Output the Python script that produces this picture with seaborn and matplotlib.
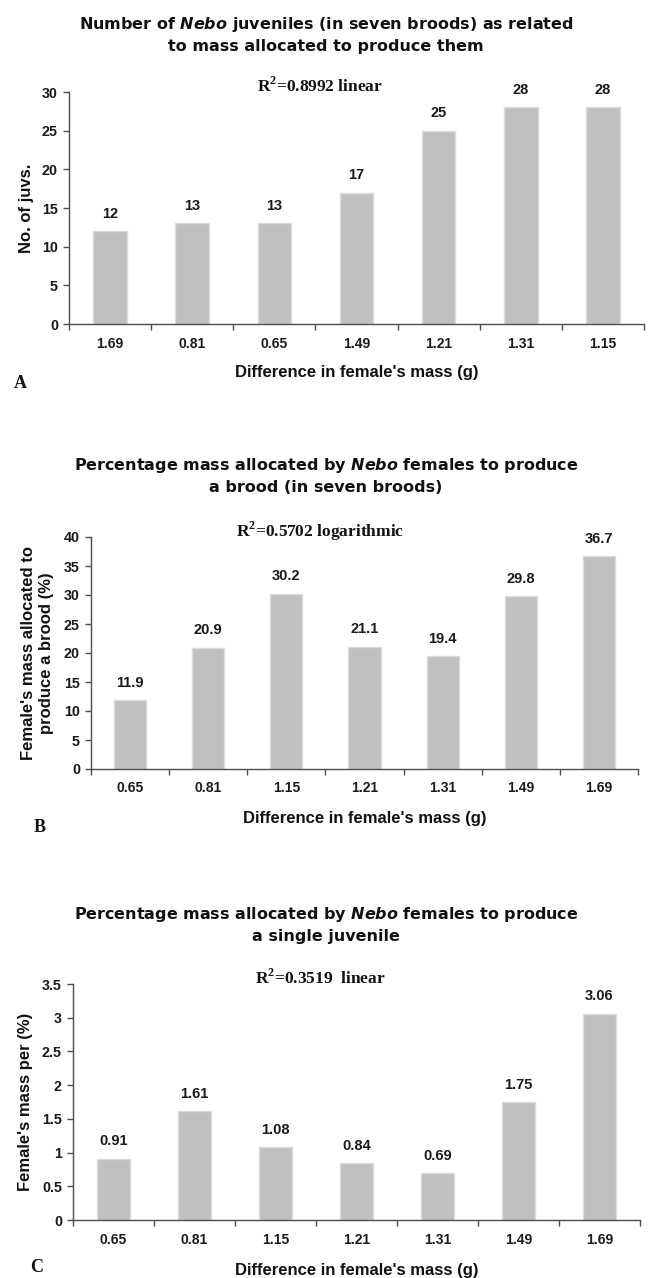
import matplotlib
matplotlib.use("Agg")
import matplotlib.pyplot as plt
import seaborn as sns
from matplotlib.ticker import FixedLocator, MultipleLocator, FuncFormatter

# Brood data for Nebo females
mass_a = ["1.69", "0.81", "0.65", "1.49", "1.21", "1.31", "1.15"]
juveniles = [12, 13, 13, 17, 25, 28, 28]

mass_bc = ["0.65", "0.81", "1.15", "1.21", "1.31", "1.49", "1.69"]
brood_pct = [11.9, 20.9, 30.2, 21.1, 19.4, 29.8, 36.7]
per_juvenile_pct = [0.91, 1.61, 1.08, 0.84, 0.69, 1.75, 3.06]

titles = [
    ("Number of $\\mathit{Nebo}$ juveniles (in seven broods) as related",
     "to mass allocated to produce them"),
    ("Percentage mass allocated by $\\mathit{Nebo}$ females to produce",
     "a brood (in seven broods)"),
    ("Percentage mass allocated by $\\mathit{Nebo}$ females to produce",
     "a single juvenile"),
]
fits = ["R$^\\mathrm{2}$=0.8992 linear", "R$^\\mathrm{2}$=0.5702 logarithmic",
        "R$^\\mathrm{2}$=0.3519  linear"]
ylabels = ["No. of juvs.", "Female's mass allocated to\nproduce a brood (%)",
           "Female's mass per (%)"]
panel_tags = ["A", "B", "C"]
xlabel = "Difference in female's mass (g)"

sns.set_theme(style="white")
plt.rcParams["font.family"] = ["Liberation Sans", "DejaVu Sans"]
plt.rcParams["mathtext.fontset"] = "custom"
plt.rcParams["mathtext.it"] = "DejaVu Sans:bold:italic"
plt.rcParams["mathtext.rm"] = "Liberation Serif:bold"

W, H = 648, 1278
fig = plt.figure(figsize=(W / 100, H / 100), dpi=100)


def fx(px):
    return px / W


def fy(py):
    return 1 - py / H


# axes boxes in pixels: left, top, right, bottom
boxes = [(69, 92, 644, 324), (91, 537, 638, 769), (73, 984, 640, 1220)]
title_y = [(25, 47), (466, 488), (914, 936)]
fit_pos = [(320, 86), (320, 531), (320, 978)]
tag_pos = [(20, 383), (40, 828), (37, 1268)]
xlabel_y = [373, 818, 1270]
ylabel_x = [26, 38, 26]

panels = [
    (mass_a, juveniles, "{:d}", 30, 5),
    (mass_bc, brood_pct, "{:.1f}", 40, 5),
    (mass_bc, per_juvenile_pct, "{:.2f}", 3.5, 0.5),
]

spine_col = "#4d4d4d"
bar_col = "#c0c0c0"
ink = "#111111"

for i, (cats, vals, fmt, ymax, ystep) in enumerate(panels):
    l, t, r, b = boxes[i]
    ax = fig.add_axes([fx(l), fy(b), fx(r - l), (b - t) / H])
    sns.barplot(x=cats, y=vals, order=cats, color=bar_col, width=0.41,
                edgecolor="#dcdcdc", linewidth=1.0, saturation=1, ax=ax)
    ax.set_xlim(-0.5, len(cats) - 0.5)
    ax.set_ylim(0, ymax)
    ax.yaxis.set_major_locator(MultipleLocator(ystep))
    ax.yaxis.set_major_formatter(FuncFormatter(lambda v, p: "%g" % v))
    ax.xaxis.set_minor_locator(FixedLocator([k - 0.5 for k in range(len(cats) + 1)]))
    for s in ["top", "right"]:
        ax.spines[s].set_visible(False)
    for s in ["left", "bottom"]:
        ax.spines[s].set_color(spine_col)
        ax.spines[s].set_linewidth(1.0)
    ax.tick_params(axis="x", which="major", length=0, pad=9, labelsize=10)
    ax.tick_params(axis="x", which="minor", length=4, width=1, color=spine_col,
                   direction="out", bottom=True)
    ax.tick_params(axis="y", length=4, width=1, color=spine_col, direction="out",
                   left=True, pad=4, labelsize=10.3)
    for lab in ax.get_xticklabels() + ax.get_yticklabels():
        lab.set_fontweight("bold")
        lab.set_color("#1a1a1a")
    ax.set_xlabel("")
    ax.set_ylabel("")
    ax.grid(False)

    for k, v in enumerate(vals):
        ax.annotate(fmt.format(v), (k, v), xytext=(0, 12.5), textcoords="offset points",
                    ha="center", va="center", fontsize=10.5, fontweight="bold",
                    color="#1a1a1a")

    # two-line heading above each panel
    l1, l2 = titles[i]
    fig.text(0.503, fy(title_y[i][0]), l1, ha="center", va="center",
             fontsize=11.5, fontweight="bold", family="DejaVu Sans", color=ink)
    fig.text(0.503, fy(title_y[i][1]), l2, ha="center", va="center",
             fontsize=11.5, fontweight="bold", family="DejaVu Sans", color=ink)

    fig.text(fx(fit_pos[i][0]), fy(fit_pos[i][1]), fits[i], ha="center", va="center",
             fontsize=12.5, fontweight="bold", family="Liberation Serif", color=ink)
    fig.text(fx(tag_pos[i][0]), fy(tag_pos[i][1]), panel_tags[i], ha="center",
             va="center", fontsize=13, fontweight="bold", family="Liberation Serif",
             color=ink)
    fig.text(fx((l + r) / 2), fy(xlabel_y[i]), xlabel, ha="center", va="center",
             fontsize=12, fontweight="bold", color=ink)
    fig.text(fx(ylabel_x[i]), fy((t + b) / 2), ylabels[i], ha="center", va="center",
             rotation=90, fontsize=12, fontweight="bold", color=ink,
             linespacing=1.25)

fig.savefig("out.png", dpi=100, facecolor="white")
